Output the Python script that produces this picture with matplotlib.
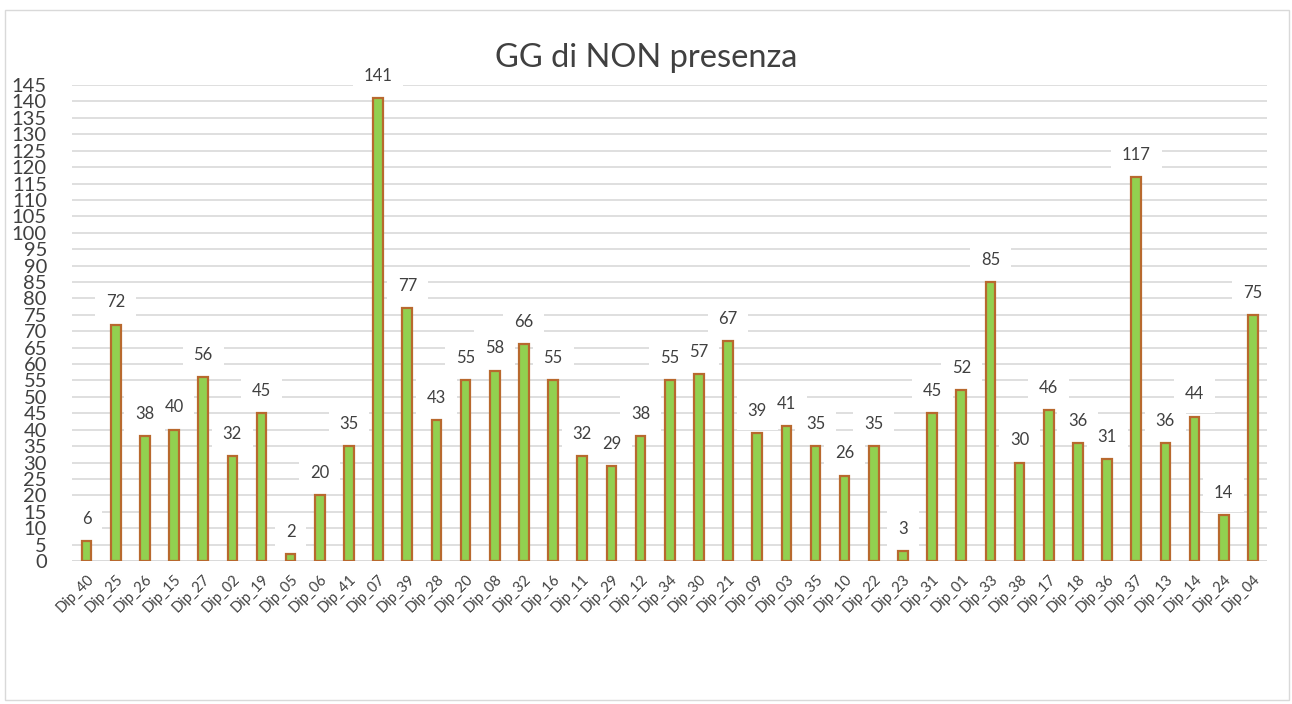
import matplotlib
matplotlib.use("Agg")
import matplotlib.pyplot as plt
from matplotlib.patches import Rectangle

categories = ["Dip_40", "Dip_25", "Dip_26", "Dip_15", "Dip_27", "Dip_02", "Dip_19", "Dip_05",
              "Dip_06", "Dip_41", "Dip_07", "Dip_39", "Dip_28", "Dip_20", "Dip_08", "Dip_32",
              "Dip_16", "Dip_11", "Dip_29", "Dip_12", "Dip_34", "Dip_30", "Dip_21", "Dip_09",
              "Dip_03", "Dip_35", "Dip_10", "Dip_22", "Dip_23", "Dip_31", "Dip_01", "Dip_33",
              "Dip_38", "Dip_17", "Dip_18", "Dip_36", "Dip_37", "Dip_13", "Dip_14", "Dip_24",
              "Dip_04"]
values = [6, 72, 38, 40, 56, 32, 45, 2, 20, 35, 141, 77, 43, 55, 58, 66, 55, 32, 29, 38,
          55, 57, 67, 39, 41, 35, 26, 35, 3, 45, 52, 85, 30, 46, 36, 31, 117, 36, 44, 14, 75]
yticks = list(range(0, 150, 5))
title = "GG di NON presenza"

plt.rcParams['font.family'] = ['Lato', 'DejaVu Sans']

fig = plt.figure(figsize=(12.92, 7.04), dpi=100)
fig.patches.append(Rectangle((0.004, 0.006), 0.994, 0.98, transform=fig.transFigure,
                             fill=False, edgecolor='#d9d9d9', linewidth=1))
ax = fig.add_axes([0.0557, 0.2031, 0.9253, 0.6761])

x = list(range(len(categories)))
ax.bar(x, values, width=0.33, color='#92d050', edgecolor='#b8692e', linewidth=1.6, zorder=3)

for xi, v in zip(x, values):
    ax.annotate(str(v), (xi, v), xytext=(0, 16), textcoords='offset points',
                ha='center', va='center', fontsize=12, color='#404040', zorder=4,
                bbox=dict(boxstyle='square,pad=0.65', facecolor='white', edgecolor='none'))

ax.set_xlim(-0.5, len(categories) - 0.5)
ax.set_ylim(0, 145)
ax.set_yticks(yticks)
ax.set_yticklabels([str(t) for t in yticks], fontsize=14.5, color='#404040')
ax.yaxis.grid(True, color='#d9d9d9', linewidth=1.2, zorder=0)
ax.set_xticks(x)
ax.set_xticklabels(categories, rotation=45, ha='right', rotation_mode='anchor',
                   fontsize=10.5, color='#404040')
ax.tick_params(axis='both', length=0)
ax.tick_params(axis='y', pad=18)
ax.tick_params(axis='x', pad=8)
for s in ax.spines.values():
    s.set_visible(False)
ax.axhline(0, color='#d9d9d9', linewidth=1.2, zorder=2)

fig.text(0.5, 0.918, title, ha='center', va='center', fontsize=23.5, color='#404040')

fig.savefig("out.png", dpi=100)
